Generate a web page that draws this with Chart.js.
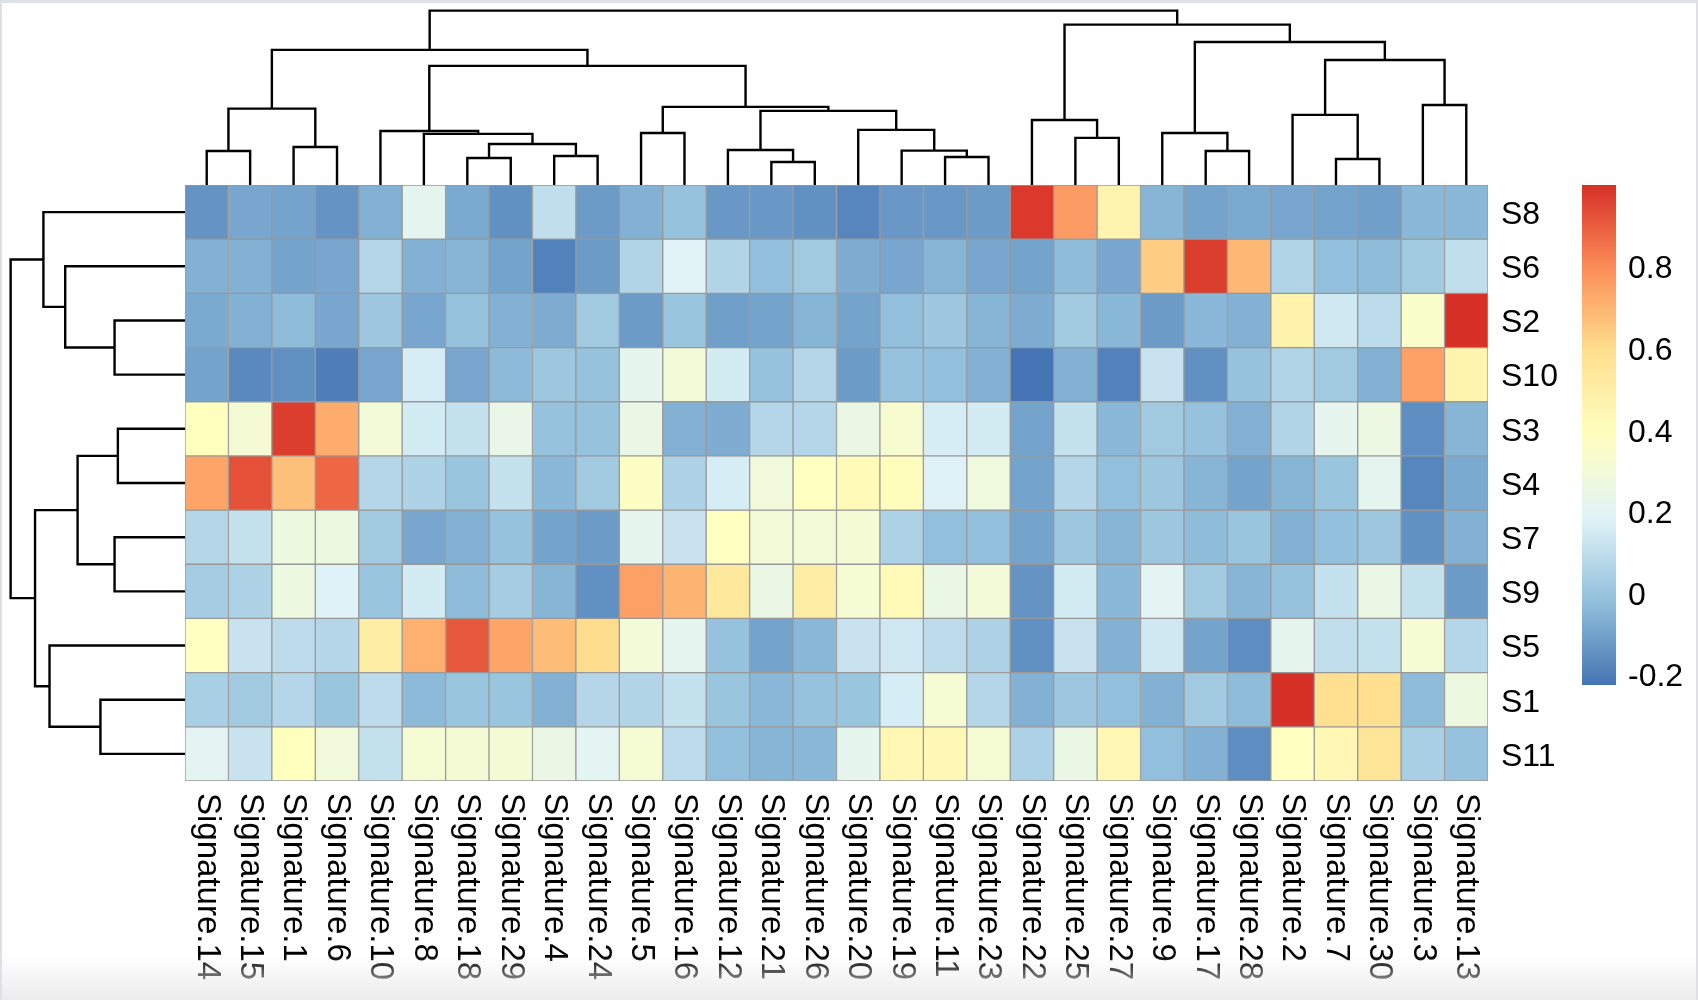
<!DOCTYPE html>
<html>
<head>
<meta charset="utf-8">
<title>Signature correlation heatmap</title>
<script src="https://cdn.jsdelivr.net/npm/chart.js@4.4.1/dist/chart.umd.min.js"></script>
<style>
  html, body { margin: 0; padding: 0; background: #fff; }
  #page { position: relative; width: 1698px; height: 1000px; overflow: hidden; background: #fff; }
  #page canvas { position: absolute; }
  #frame { position: absolute; left: 0; top: 0; width: 1698px; height: 1000px; box-sizing: border-box;
           border-top: 3px solid #dde1e5; border-left: 2px solid #dde1e5; border-right: 2px solid #dde1e5; pointer-events: none; }
  #shade { position: absolute; left: 0; top: 955px; width: 1698px; height: 45px;
           background: linear-gradient(rgba(236,236,236,0), #ececec); pointer-events: none; }
</style>
</head>
<body>
<div id="page">
  <canvas id="heat" width="1698" height="1000" style="left:0;top:0"></canvas>
  <canvas id="topTree" width="1303" height="185" style="left:185px;top:0"></canvas>
  <canvas id="leftTree" width="185" height="596" style="left:0;top:185px"></canvas>
  <canvas id="legendBar" width="138" height="530" style="left:1560px;top:170px"></canvas>
  <div id="shade"></div>
  <div id="frame"></div>
</div>
<script>
// columns / rows in dendrogram order
const cols = ['Signature.14', 'Signature.15', 'Signature.1', 'Signature.6', 'Signature.10', 'Signature.8',
  'Signature.18', 'Signature.29', 'Signature.4', 'Signature.24', 'Signature.5', 'Signature.16',
  'Signature.12', 'Signature.21', 'Signature.26', 'Signature.20', 'Signature.19', 'Signature.11',
  'Signature.23', 'Signature.22', 'Signature.25', 'Signature.27', 'Signature.9', 'Signature.17',
  'Signature.28', 'Signature.2', 'Signature.7', 'Signature.30', 'Signature.3', 'Signature.13'];
const rows = ['S8', 'S6', 'S2', 'S10', 'S3', 'S4', 'S7', 'S9', 'S5', 'S1', 'S11'];

// cell values, one array per row (same order as cols)
const S8  = [-0.14, -0.09, -0.10, -0.14, -0.06, 0.21, -0.08, -0.15, 0.10, -0.12, -0.06, -0.01, -0.13, -0.13, -0.15, -0.18, -0.13, -0.13, -0.12, 0.98, 0.76, 0.45, -0.05, -0.10, -0.08, -0.09, -0.10, -0.11, -0.04, -0.04];
const S6  = [-0.06, -0.06, -0.10, -0.09, 0.07, -0.06, -0.05, -0.10, -0.19, -0.12, 0.06, 0.19, 0.06, -0.02, 0.02, -0.07, -0.09, -0.05, -0.09, -0.10, -0.03, -0.09, 0.64, 0.97, 0.69, 0.06, -0.02, -0.03, 0.02, 0.10];
const S2  = [-0.08, -0.06, -0.03, -0.09, 0.01, -0.09, -0.01, -0.06, -0.07, 0.02, -0.12, 0.00, -0.11, -0.10, -0.05, -0.10, -0.02, 0.01, -0.05, -0.07, 0.02, -0.04, -0.12, -0.04, -0.06, 0.47, 0.14, 0.09, 0.35, 1.00];
const S10 = [-0.10, -0.17, -0.15, -0.20, -0.09, 0.16, -0.09, -0.035, 0.01, -0.01, 0.22, 0.30, 0.15, -0.01, 0.07, -0.12, -0.01, -0.02, -0.06, -0.226, -0.06, -0.19, 0.12, -0.15, -0.01, 0.06, 0.02, -0.06, 0.75, 0.46];
const S3  = [0.39, 0.31, 0.97, 0.72, 0.30, 0.15, 0.11, 0.24, -0.01, -0.01, 0.25, -0.06, -0.07, 0.07, 0.07, 0.25, 0.33, 0.16, 0.15, -0.10, 0.11, -0.04, 0.02, -0.01, -0.06, 0.06, 0.22, 0.26, -0.16, -0.05];
const S4  = [0.74, 0.93, 0.67, 0.88, 0.07, 0.05, 0.00, 0.11, -0.04, 0.02, 0.37, 0.05, 0.16, 0.29, 0.38, 0.42, 0.40, 0.18, 0.28, -0.10, 0.07, -0.02, 0.01, -0.05, -0.10, -0.05, 0.00, 0.21, -0.18, -0.08];
const S7  = [0.07, 0.11, 0.27, 0.27, 0.02, -0.09, -0.06, -0.01, -0.10, -0.12, 0.22, 0.12, 0.38, 0.30, 0.30, 0.31, 0.05, -0.02, -0.02, -0.10, 0.01, -0.05, 0.01, -0.03, 0.00, -0.06, -0.02, 0.01, -0.15, -0.06];
const S9  = [0.03, 0.05, 0.27, 0.18, 0.00, 0.15, -0.03, 0.03, -0.05, -0.15, 0.75, 0.70, 0.54, 0.25, 0.50, 0.32, 0.42, 0.25, 0.30, -0.14, 0.15, -0.04, 0.20, 0.02, -0.05, -0.01, 0.11, 0.25, 0.11, -0.12];
const S5  = [0.38, 0.12, 0.09, 0.07, 0.50, 0.71, 0.91, 0.74, 0.68, 0.60, 0.30, 0.21, -0.01, -0.10, -0.04, 0.12, 0.14, 0.09, 0.05, -0.15, 0.12, -0.06, 0.14, -0.10, -0.16, 0.22, 0.10, 0.11, 0.32, 0.07];
const S1  = [0.04, 0.02, 0.07, 0.00, 0.09, -0.035, 0.00, 0.00, -0.06, 0.07, 0.06, 0.11, 0.00, -0.04, -0.01, 0.00, 0.16, 0.32, 0.07, -0.06, 0.01, -0.02, -0.06, 0.02, -0.03, 1.00, 0.59, 0.59, -0.03, 0.27];
const S11 = [0.20, 0.12, 0.39, 0.29, 0.11, 0.32, 0.31, 0.31, 0.25, 0.20, 0.32, 0.09, -0.02, -0.05, -0.04, 0.22, 0.44, 0.43, 0.32, 0.05, 0.25, 0.44, -0.02, -0.06, -0.16, 0.38, 0.44, 0.56, 0.04, -0.01];
const matrix = [S8, S6, S2, S10, S3, S4, S7, S9, S5, S1, S11];

// rev(RdYlBu, 7) like pheatmap
const palette = ['#4575B4', '#91BFDB', '#E0F3F8', '#FFFFBF', '#FEE090', '#FC8D59', '#D73027'];
const legendTicks = [-0.2, 0, 0.2, 0.4, 0.6, 0.8];

// hclust style merges: negative = leaf (1-based, display order), positive = earlier merge
const colMerge = [[-1, -2], [-3, -4], [1, 2], [-7, -8], [-9, -10], [4, 5], [-6, 6], [-5, 7], [-11, -12],
  [-14, -15], [-13, 10], [-18, -19], [-17, 12], [-16, 13], [11, 14], [9, 15], [8, 16], [3, 17],
  [-21, -22], [-20, 19], [-24, -25], [-23, 21], [-27, -28], [-26, 23], [-29, -30], [24, 25], [22, 26], [20, 27], [18, 28]];
const colHeight = [0.195, 0.218, 0.438, 0.155, 0.166, 0.235, 0.293, 0.310, 0.298,
  0.132, 0.201, 0.161, 0.197, 0.316, 0.425, 0.448, 0.683, 0.775,
  0.270, 0.373, 0.195, 0.298, 0.149, 0.402, 0.459, 0.717, 0.820, 0.920, 1.0];
const rowMerge = [[-3, -4], [-2, 1], [-1, 2], [-5, -6], [-7, -8], [4, 5], [-10, -11], [-9, 7], [6, 8], [3, 9]];
const rowHeight = [0.404, 0.687, 0.812, 0.385, 0.404, 0.616, 0.485, 0.777, 0.860, 1.0];

Chart.defaults.font.family = '"Liberation Sans", Arial, Helvetica, sans-serif';
Chart.defaults.color = '#000';

const allVals = matrix.flat();
const vmin = Math.min(...allVals);
const vmax = Math.max(...allVals);

function hexToRgb(h) {
  const n = parseInt(h.slice(1), 16);
  return [(n >> 16) & 255, (n >> 8) & 255, n & 255];
}
const paletteRgb = palette.map(hexToRgb);

function cellColor(v) {
  const t = (v - vmin) / (vmax - vmin) * (palette.length - 1);
  const i = Math.max(0, Math.min(Math.floor(t), palette.length - 2));
  const f = Math.max(0, Math.min(1, t - i));
  const a = paletteRgb[i], b = paletteRgb[i + 1];
  const c = a.map((x, k) => Math.round(x + (b[k] - x) * f));
  return `rgb(${c[0]},${c[1]},${c[2]})`;
}

// column labels read top to bottom, drawn under the heatmap
const colLabels = {
  id: 'colLabels',
  afterDraw(chart) {
    const { ctx, chartArea, scales: { x } } = chart;
    ctx.save();
    ctx.font = '33px "Liberation Sans", Arial, Helvetica, sans-serif';
    ctx.fillStyle = '#000';
    ctx.textAlign = 'left';
    ctx.textBaseline = 'middle';
    cols.forEach((c, i) => {
      ctx.save();
      ctx.translate(x.getPixelForValue(i), chartArea.bottom + 12);
      ctx.rotate(Math.PI / 2);
      ctx.fillText(c, 0, 0);
      ctx.restore();
    });
    ctx.restore();
  }
};

// Heatmap
new Chart(document.getElementById('heat'), {
  type: 'bar',
  data: {
    labels: cols,
    datasets: matrix.map((vals, r) => ({
      label: rows[r],
      data: vals.map(() => [r, r + 1]),
      backgroundColor: vals.map(cellColor),
      borderColor: '#999999',
      borderWidth: 1,
      borderSkipped: false,
      grouped: false,
      barPercentage: 1,
      categoryPercentage: 1
    }))
  },
  options: {
    responsive: false,
    animation: false,
    devicePixelRatio: 1,
    layout: { padding: { left: 185, top: 185, right: 0, bottom: 219 } },
    plugins: { legend: { display: false }, tooltip: { enabled: false } },
    scales: {
      x: { display: false },
      y: { display: false, min: 0, max: rows.length, reverse: true },
      y2: {
        type: 'category',
        labels: rows,
        position: 'right',
        offset: true,
        grid: { display: false },
        border: { display: false },
        ticks: { padding: 5, labelOffset: 3, autoSkip: false, color: '#000', font: { size: 32 } },
        afterFit: (axis) => { axis.width = 210; }
      }
    }
  },
  plugins: [colLabels]
});

// Dendrograms
function treeSegments(merge, height) {
  const pos = [];
  const at = (k) => (k < 0 ? { p: -k - 1, h: 0 } : { p: pos[k - 1], h: height[k - 1] });
  return merge.map(([a, b], i) => {
    const A = at(a), B = at(b), h = height[i];
    pos[i] = (A.p + B.p) / 2;
    return [[A.p, A.h], [A.p, h], [B.p, h], [B.p, B.h]];
  });
}

function treeChart(id, merge, height, n, horizontal) {
  const segs = treeSegments(merge, height);
  const top = Math.max(...height) * 1.061;
  const posAxis = { type: 'linear', display: false, min: -0.5, max: n - 0.5 };
  const hAxis = { type: 'linear', display: false, min: 0, max: top };
  return new Chart(document.getElementById(id), {
    type: 'scatter',
    data: {
      datasets: segs.map((s) => ({
        data: s.map(([p, h]) => (horizontal ? { x: p, y: h } : { x: h, y: p })),
        showLine: true,
        borderColor: '#000',
        borderWidth: 2.4,
        borderJoinStyle: 'miter',
        pointRadius: 0,
        clip: false
      }))
    },
    options: {
      responsive: false,
      animation: false,
      devicePixelRatio: 1,
      layout: { padding: 0 },
      plugins: { legend: { display: false }, tooltip: { enabled: false } },
      scales: horizontal
        ? { x: posAxis, y: hAxis }
        : { x: { ...hAxis, reverse: true }, y: { ...posAxis, reverse: true } }
    }
  });
}

treeChart('topTree', colMerge, colHeight, cols.length, true);
treeChart('leftTree', rowMerge, rowHeight, rows.length, false);

// Colour key
new Chart(document.getElementById('legendBar'), {
  type: 'bar',
  data: {
    labels: [''],
    datasets: [{
      data: [[vmin, vmax]],
      backgroundColor: (c) => {
        const { chart } = c;
        if (!chart.chartArea) return palette[0];
        const y = chart.scales.y;
        const g = chart.ctx.createLinearGradient(0, y.getPixelForValue(vmin), 0, y.getPixelForValue(vmax));
        palette.forEach((col, i) => g.addColorStop(i / (palette.length - 1), col));
        return g;
      },
      borderWidth: 0,
      barPercentage: 1,
      categoryPercentage: 1
    }]
  },
  options: {
    responsive: false,
    animation: false,
    devicePixelRatio: 1,
    layout: { padding: { top: 15, bottom: 15, left: 22, right: 0 } },
    plugins: { legend: { display: false }, tooltip: { enabled: false } },
    scales: {
      x: { display: false },
      y: {
        position: 'right',
        min: vmin,
        max: vmax,
        grid: { display: false },
        border: { display: false },
        afterBuildTicks: (axis) => { axis.ticks = legendTicks.map((v) => ({ value: v })); },
        afterFit: (axis) => { axis.width = 82; axis.paddingTop = 0; axis.paddingBottom = 0; },
        ticks: { padding: 4, labelOffset: 3, color: '#000', font: { size: 32 }, callback: (v) => String(v) }
      }
    }
  }
});
</script>
</body>
</html>
